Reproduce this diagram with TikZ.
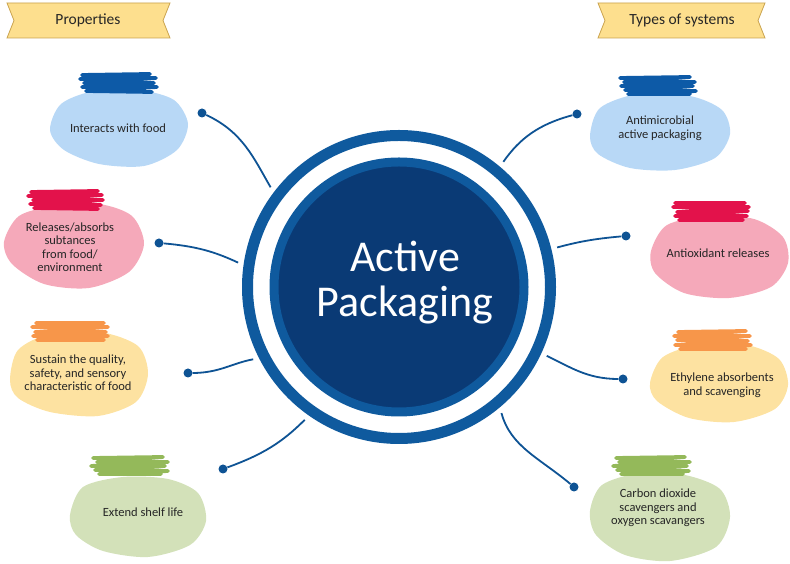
\documentclass[tikz,border=0pt]{standalone}
\usepackage{fontspec}
\setmainfont{Carlito}

\definecolor{ringblue}{HTML}{0F5A9E}
\definecolor{navy}{HTML}{0A3A75}
\definecolor{linkblue}{HTML}{0E5394}
\definecolor{blueblob}{HTML}{B8D8F6}
\definecolor{bluescrib}{HTML}{0D5AA7}
\definecolor{pinkblob}{HTML}{F5A9BA}
\definecolor{pinkscrib}{HTML}{E3124B}
\definecolor{yellowblob}{HTML}{FDE2A1}
\definecolor{orangescrib}{HTML}{F7964A}
\definecolor{greenblob}{HTML}{D3E1B9}
\definecolor{greenscrib}{HTML}{94B95A}
\definecolor{bannerfill}{HTML}{FDDF8E}
\definecolor{banneredge}{HTML}{C9A24D}

\tikzset{
  blobtext/.style={align=center, text=black!85, font=\fontsize{12.5}{13.5}\selectfont},
  dot/.style={circle, fill=linkblue, inner sep=0pt, minimum size=9pt},
  link/.style={draw=linkblue, line width=1.8pt, shorten >=6pt},
  scrib/.style={line width=3.8pt, line cap=round, line join=round},
  banner/.style={fill=bannerfill, draw=banneredge, line width=0.8pt},
  bannertext/.style={text=black!85, font=\fontsize{15.5}{18}\selectfont}
}

\begin{document}
\begin{tikzpicture}[x=1pt, y=1pt]
\useasboundingbox (0,0) rectangle (790,564);

% banners
\draw[banner] (7,561) -- (170,561) -- (163,543.5) -- (170,526) -- (7,526) -- (14,543.5) -- cycle;
\node[bannertext] (proplabel) at (88,544) {Properties};
\draw[banner] (598,561) -- (765,561) -- (758,543.5) -- (765,526) -- (598,526) -- (605,543.5) -- cycle;
\node[bannertext] (typelabel) at (682,544) {Types of systems};

% centre
\node[circle, draw=ringblue, line width=11pt, minimum size=303pt] (ring) at (399,277) {};
\node[circle, fill=navy, draw=ringblue, line width=9pt, minimum size=250pt] (core) at (399,277) {};
\node[text=white, align=center, font=\fontsize{44}{45}\selectfont] (title) at (405,281) {Active\\Packaging};

% blobs, properties
\fill[blueblob, shift={(119,436)}] plot[smooth cycle] coordinates {(-69,-2) (-58,24) (-25,37) (20,38) (55,28) (69,4) (58,-22) (25,-38) (-20,-36) (-55,-22)};
\draw[scrib, bluescrib, shift={(80,489)}] (2,0) -- (70,1) -- (0,-4) -- (76,-3) -- (4,-8) -- (74,-8) -- (2,-12) -- (77,-12) -- (6,-16) -- (72,-17);
\node[blobtext] (p1) at (118,436) {Interacts with food};

\fill[pinkblob, shift={(74,318)}] plot[smooth cycle] coordinates {(-70,4) (-55,30) (-20,40) (25,42) (58,30) (70,2) (55,-26) (15,-42) (-30,-38) (-62,-18)};
\draw[scrib, pinkscrib, shift={(28,372)}] (3,0) -- (70,1) -- (0,-4) -- (74,-3) -- (5,-8) -- (75,-8) -- (2,-12) -- (73,-13) -- (6,-16) -- (70,-17);
\node[blobtext] (p2) at (70,317) {Releases/absorbs\\subtances\\from food/\\environment};

\fill[yellowblob, shift={(78,190)}] plot[smooth cycle] coordinates {(-68,-6) (-60,24) (-28,40) (22,42) (60,28) (70,0) (58,-28) (20,-42) (-28,-38) (-60,-24)};
\draw[scrib, orangescrib, shift={(32,241)}] (4,0) -- (72,0) -- (0,-4) -- (76,-4) -- (3,-9) -- (74,-9) -- (1,-13) -- (76,-13) -- (5,-17) -- (72,-17);
\node[blobtext] (p3) at (78,191) {Sustain the quality,\\safety, and sensory\\characteristic of food};

\fill[greenblob, shift={(138,47)}] plot[smooth cycle] coordinates {(-68,2) (-55,30) (-15,40) (30,38) (60,24) (68,-4) (52,-28) (10,-40) (-35,-34) (-62,-18)};
\draw[scrib, greenscrib, shift={(91,106)}] (2,0) -- (72,1) -- (6,-4) -- (77,-4) -- (0,-8) -- (74,-8) -- (4,-12) -- (77,-13) -- (8,-16) -- (70,-16);
\node[blobtext] (p4) at (143,52) {Extend shelf life};

% blobs, types of systems
\fill[blueblob, shift={(660,432)}] plot[smooth cycle] coordinates {(-70,-4) (-60,24) (-22,38) (30,36) (62,22) (70,-2) (55,-26) (15,-38) (-30,-36) (-62,-22)};
\draw[scrib, bluescrib, shift={(620,486)}] (0,0) -- (70,1) -- (4,-4) -- (75,-4) -- (1,-8) -- (73,-8) -- (5,-12) -- (76,-13) -- (8,-16) -- (70,-16);
\node[blobtext] (s1) at (660,436) {Antimicrobial\\active packaging};

\fill[pinkblob, shift={(719,307)}] plot[smooth cycle] coordinates {(-68,6) (-52,32) (-10,41) (35,38) (64,20) (69,-6) (52,-30) (10,-41) (-35,-36) (-64,-16)};
\draw[scrib, pinkscrib, shift={(673,361)}] (2,0) -- (72,0) -- (0,-4) -- (76,-4) -- (4,-9) -- (75,-8) -- (2,-13) -- (74,-13) -- (6,-17) -- (70,-17);
\node[blobtext] (s2) at (718,311) {Antioxidant releases};

\fill[yellowblob, shift={(719,181)}] plot[smooth cycle] coordinates {(-69,0) (-56,26) (-18,39) (28,38) (60,24) (69,-2) (56,-26) (15,-39) (-30,-35) (-62,-18)};
\draw[scrib, orangescrib, shift={(674,232)}] (4,0) -- (72,1) -- (0,-4) -- (76,-4) -- (3,-8) -- (74,-9) -- (1,-13) -- (77,-13) -- (6,-17) -- (72,-17);
\node[blobtext] (s3) at (722,179) {Ethylene absorbents\\and scavenging};

\fill[greenblob, shift={(660,47)}] plot[smooth cycle] coordinates {(-70,6) (-58,32) (-20,44) (25,42) (60,28) (70,0) (56,-30) (10,-44) (-35,-38) (-64,-18)};
\draw[scrib, greenscrib, shift={(613,106)}] (3,0) -- (72,1) -- (6,-4) -- (77,-4) -- (0,-8) -- (74,-8) -- (4,-12) -- (76,-13) -- (8,-16) -- (70,-16);
\node[blobtext] (s4) at (658,56) {Carbon dioxide\\scavengers and\\oxygen scavangers};

% dots
\node[dot] (d1) at (202,451) {};
\node[dot] (d2) at (159,321) {};
\node[dot] (d3) at (188,191) {};
\node[dot] (d4) at (223,95) {};
\node[dot] (d5) at (577,450) {};
\node[dot] (d6) at (626,328) {};
\node[dot] (d7) at (623,185) {};
\node[dot] (d8) at (574,77) {};

% links
\draw[link] (d1) to[out=-25, in=120] (ring.143);
\draw[link] (d2) to[out=-5, in=155] (ring.172);
\draw[link] (d3) to[out=0, in=190] (ring.207);
\draw[link] (d4) to[out=20, in=225] (ring.235);
\draw[link] (d5) to[out=195, in=55] (ring.50);
\draw[link] (d6) to[out=185, in=15] (ring.14);
\draw[link] (d7) to[out=180, in=-25] (ring.335);
\draw[link] (d8) to[out=140, in=-75] (ring.310);

\end{tikzpicture}
\end{document}
